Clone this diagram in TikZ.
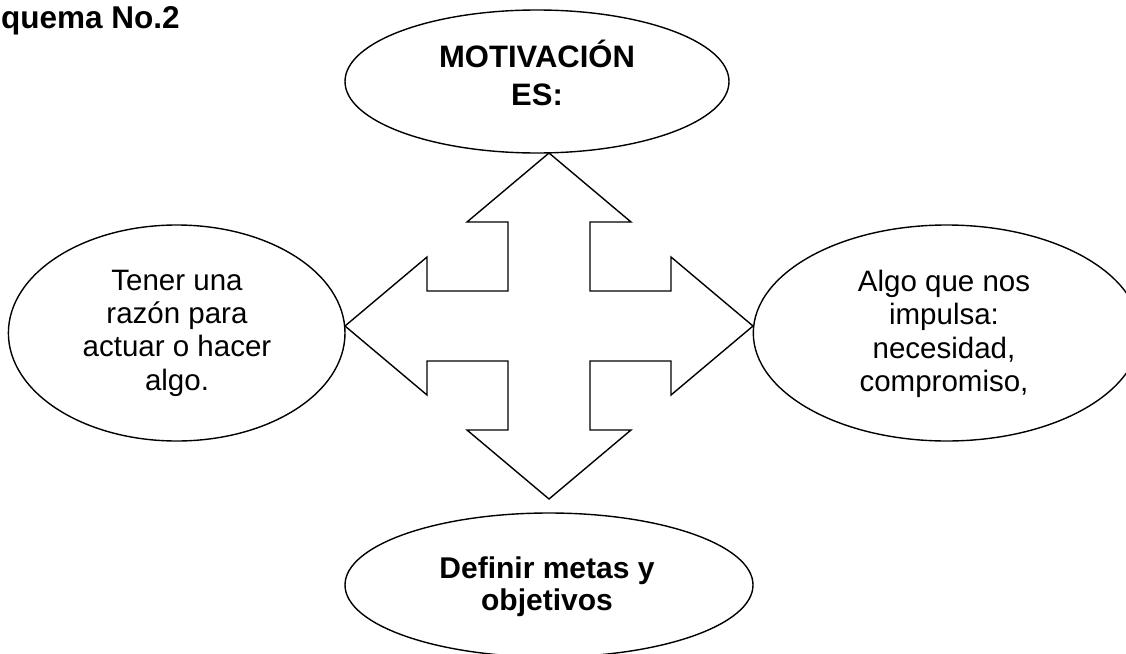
\documentclass[tikz,border=0pt]{standalone}
\usepackage{fontspec}
\setmainfont{Liberation Sans}
\usetikzlibrary{shapes.geometric,calc}
\tikzset{
  oval/.style={ellipse, draw=black, line width=1.4pt, inner sep=0pt},
  plaintxt/.style={align=center, inner sep=0pt, font=\fontsize{29.5}{33.3}\selectfont},
  boldtxt/.style={align=center, inner sep=0pt, font=\fontsize{31}{38}\selectfont\bfseries},
  boldtxtb/.style={align=center, inner sep=0pt, font=\fontsize{30}{31.7}\selectfont\bfseries},
  bigarrow/.style={draw=black, line width=1.4pt, line join=miter, fill=white}
}
\begin{document}
\begin{tikzpicture}[x=1pt,y=-1pt]
\useasboundingbox (0,0) rectangle (1126,653);
\clip (0,0) rectangle (1126,653);
\fill[white] (0,0) rectangle (1126,653);

% title
\node[anchor=base west, inner sep=0pt, font=\fontsize{31.5}{36}\selectfont\bfseries] (title) at (1,28.3) {quema No.2};

% ellipses
\node[oval, minimum width=384pt, minimum height=143pt] (top) at (537,81.5) {};
\node[oval, minimum width=336.6pt, minimum height=216pt] (left) at (176.7,333) {};
\node[oval, minimum width=386.8pt, minimum height=216pt] (right) at (946.7,333) {};
\node[oval, minimum width=408pt, minimum height=144pt] (bottom) at (549,585) {};

% texts
\node[boldtxt] (toptxt) at (537,73) {MOTIVACIÓN\\ES:};
\node[plaintxt] (lefttxt) at (177,333) {Tener una\\razón para\\actuar o hacer\\algo.};
\node[plaintxt] (righttxt) at (944,334) {Algo que nos\\impulsa:\\necesidad,\\compromiso,};
\node[boldtxtb] (bottxt) at (547,587) {Definir metas y\\objetivos};

% four-way arrow
\coordinate (c) at (549,326);
\draw[bigarrow]
  ($(c)+(0,-173)$) coordinate (tipN)
  -- ++(82,69) -- ++(-41,0) -- ++(0,69) -- ++(81,0) -- ++(0,-34)
  -- ++(82,69) coordinate (tipE)
  -- ++(-82,69) -- ++(0,-34) -- ++(-81,0) -- ++(0,69) -- ++(41,0)
  -- ++(-82,69) coordinate (tipS)
  -- ++(-82,-69) -- ++(41,0) -- ++(0,-69) -- ++(-81,0) -- ++(0,34)
  -- ++(-82,-69) coordinate (tipW)
  -- ++(82,-69) -- ++(0,34) -- ++(81,0) -- ++(0,-69) -- ++(-41,0)
  -- cycle;
\end{tikzpicture}
\end{document}
